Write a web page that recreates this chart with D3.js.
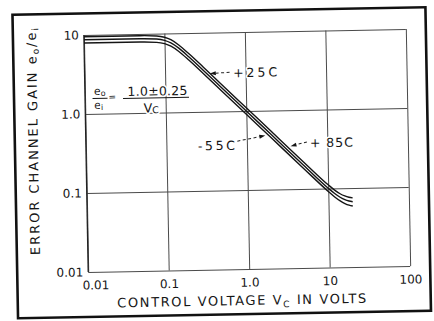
<!DOCTYPE html>
<html>
<head>
<meta charset="utf-8">
<script src="https://cdn.jsdelivr.net/npm/d3@7"></script>
<style>
  html, body { margin: 0; padding: 0; background: #ffffff; }
  svg { display: block; }
  text { font-family: "DejaVu Sans", "Liberation Sans", sans-serif; fill: #161616; }
</style>
</head>
<body>
<svg id="chart" width="434" height="321"></svg>
<script>
// Control voltage (V) at which the gain curves are sampled
const voltage = [0.01, 0.05, 0.08, 0.1, 0.12, 0.15, 0.2, 0.3, 0.5, 1, 2, 5, 10, 12, 14, 16, 18, 20];

// Error channel gain e0/ei for each temperature
const gainPlus85 = [9.5, 9.5, 9.34, 8.97, 8.31, 7.10, 5.47, 3.67, 2.2, 1.1, 0.55, 0.22, 0.1115, 0.0952, 0.0853, 0.0798, 0.0767, 0.0751];
const gainPlus25 = [8.7, 8.7, 8.54, 8.2, 7.57, 6.47, 4.97, 3.33, 2.0, 1.0, 0.5, 0.2, 0.101, 0.0862, 0.077, 0.0716, 0.0687, 0.0671];
const gainMinus55 = [7.9, 7.9, 7.76, 7.44, 6.89, 5.88, 4.52, 3.03, 1.82, 0.91, 0.455, 0.182, 0.0919, 0.0779, 0.0692, 0.064, 0.0609, 0.0592];

// Axis ticks
const xTicks = [0.01, 0.1, 1, 10, 100];
const xTickLabels = ["0.01", "0.1", "1.0", "10", "100"];
const yTicks = [0.01, 0.1, 1, 10];
const yTickLabels = ["0.01", "0.1", "1.0", "10"];

// Curve annotations: label, series, and the voltage where the arrow meets the curve
const curveLabels = ["+25C", "-55C", "+ 85C"];
const labelSeries = [gainPlus25, gainMinus55, gainPlus85];
const labelTargetV = [0.33, 1.85, 3.2];

const svg = d3.select("#chart");
// The sheet sits slightly askew on the page
const g = svg.append("g").attr("transform", "rotate(-1.05 247 150)");

// Outer frame
g.append("rect")
  .attr("x", 15).attr("y", 10.5)
  .attr("width", 413).attr("height", 303.5)
  .attr("fill", "#ffffff")
  .attr("stroke", "#111").attr("stroke-width", 2.6);

const x = d3.scaleLog().domain([0.01, 100]).range([86, 408]);
const y = d3.scaleLog().domain([0.01, 10]).range([269, 32]);

// Grid (decade lines) via axes
const gx = g.append("g").attr("transform", `translate(0,${y(0.01)})`)
  .call(d3.axisBottom(x).tickValues(xTicks)
    .tickFormat((d, i) => xTickLabels[i])
    .tickSize(-(y(0.01) - y(10))).tickPadding(9));
gx.select(".domain").remove();
gx.selectAll(".tick line").attr("stroke", "#4a4a4a").attr("stroke-width", 1);
gx.selectAll(".tick text")
  .attr("font-size", 12).attr("fill", "#161616")
  .attr("dx", (d, i) => i === 0 ? 7 : 0);

const gy = g.append("g").attr("transform", `translate(${x(0.01)},0)`)
  .call(d3.axisLeft(y).tickValues(yTicks)
    .tickFormat((d, i) => yTickLabels[i])
    .tickSize(-(x(100) - x(0.01))).tickPadding(5));
gy.select(".domain").remove();
gy.selectAll(".tick line").attr("stroke", "#4a4a4a").attr("stroke-width", 1);
gy.selectAll(".tick text").attr("font-size", 12).attr("fill", "#161616");

// Left axis a bit heavier
g.append("line")
  .attr("x1", x(0.01)).attr("x2", x(0.01))
  .attr("y1", y(10)).attr("y2", y(0.01))
  .attr("stroke", "#222").attr("stroke-width", 1.3);

// Gain curves
const line = d3.line()
  .x(d => x(d[0])).y(d => y(d[1]))
  .curve(d3.curveMonotoneX);

[gainPlus85, gainPlus25, gainMinus55].forEach(series => {
  g.append("path")
    .datum(voltage.map((v, i) => [v, series[i]]))
    .attr("d", line)
    .attr("fill", "none")
    .attr("stroke", "#151515")
    .attr("stroke-width", 1.4);
});

// Value on a series at a given voltage (log-log interpolation between samples)
function gainAt(series, v) {
  const lv = Math.log10(v);
  for (let i = 0; i < voltage.length - 1; i++) {
    const a = Math.log10(voltage[i]), b = Math.log10(voltage[i + 1]);
    if (lv >= a && lv <= b) {
      const t = (lv - a) / (b - a);
      return Math.pow(10, Math.log10(series[i]) * (1 - t) + Math.log10(series[i + 1]) * t);
    }
  }
  return series[series.length - 1];
}

// Annotation texts (white halo knocks out the grid behind them)
function label(sel) {
  return sel.attr("stroke", "#ffffff").attr("stroke-width", 3)
    .attr("paint-order", "stroke").attr("stroke-linejoin", "round");
}

const labelPos = [
  { x: 234.5, y: 77, w: 44, tail: [231, 72] },
  { x: 198, y: 149.5, w: 37, tail: [237.5, 141] },
  { x: 310, y: 148.5, w: 43, tail: [307, 143] }
];

curveLabels.forEach((txt, i) => {
  const p = labelPos[i];
  label(g.append("text"))
    .attr("x", p.x).attr("y", p.y)
    .attr("font-size", 12.5)
    .attr("textLength", p.w).attr("lengthAdjust", "spacing")
    .text(txt);

  // dashed leader with arrowhead, stopping just short of the curve
  const tx = x(labelTargetV[i]);
  const ty = y(gainAt(labelSeries[i], labelTargetV[i]));
  const dx = tx - p.tail[0], dy = ty - p.tail[1];
  const len = Math.hypot(dx, dy);
  const ux = dx / len, uy = dy / len;
  const tipX = tx - ux * 3, tipY = ty - uy * 3;
  const baseX = tipX - ux * 6, baseY = tipY - uy * 6;
  g.append("line")
    .attr("x1", p.tail[0]).attr("y1", p.tail[1])
    .attr("x2", baseX).attr("y2", baseY)
    .attr("stroke", "#222").attr("stroke-width", 1)
    .attr("stroke-dasharray", "3,2.5");
  g.append("path")
    .attr("d", `M${tipX},${tipY} L${baseX - uy * 2},${baseY + ux * 2} L${baseX + uy * 2},${baseY - ux * 2} Z`)
    .attr("fill", "#161616");
});

// Gain formula: e0/ei = (1.0 ± 0.25) / Vc
const f = g.append("g");
const eo = label(f.append("text")).attr("x", 95).attr("y", 92.3).attr("font-size", 11);
eo.append("tspan").text("e");
eo.append("tspan").attr("font-size", 8).attr("dy", 1).text("o");
f.append("line").attr("x1", 93.5).attr("x2", 108.5).attr("y1", 95.8).attr("y2", 95.8)
  .attr("stroke", "#161616").attr("stroke-width", 1);
const ei = label(f.append("text")).attr("x", 95).attr("y", 106.3).attr("font-size", 11);
ei.append("tspan").text("e");
ei.append("tspan").attr("font-size", 8).attr("dy", 1).text("i");
f.append("text").attr("x", 109.5).attr("y", 97.5).attr("font-size", 9).text("=");
label(f.append("text")).attr("x", 128.5).attr("y", 93.8).attr("font-size", 12.5)
  .attr("textLength", 60).attr("lengthAdjust", "spacing").text("1.0\u00B10.25");
f.append("line").attr("x1", 124).attr("x2", 190).attr("y1", 96.2).attr("y2", 96.2)
  .attr("stroke", "#161616").attr("stroke-width", 1.1);
const vc = label(f.append("text")).attr("x", 144.5).attr("y", 110.5).attr("font-size", 12.5);
vc.append("tspan").text("V");
vc.append("tspan").attr("font-size", 9.5).attr("dy", 1).text("C");

// Axis titles
const yt = g.append("text")
  .attr("transform", "translate(38,137.7) rotate(-90)")
  .attr("text-anchor", "middle")
  .attr("font-size", 13)
  .attr("textLength", 227).attr("lengthAdjust", "spacing");
yt.append("tspan").text("ERROR CHANNEL GAIN e");
yt.append("tspan").attr("font-size", 9).attr("dy", 2.5).text("o");
yt.append("tspan").attr("dy", -2.5).text("/e");
yt.append("tspan").attr("font-size", 9).attr("dy", 2.5).text("i");

const xt = g.append("text")
  .attr("x", 239).attr("y", 305)
  .attr("text-anchor", "middle")
  .attr("font-size", 13)
  .attr("textLength", 249).attr("lengthAdjust", "spacing");
xt.append("tspan").text("CONTROL VOLTAGE V");
xt.append("tspan").attr("font-size", 9).attr("dy", 3).text("C");
xt.append("tspan").attr("dy", -3).text(" IN VOLTS");
</script>
</body>
</html>
